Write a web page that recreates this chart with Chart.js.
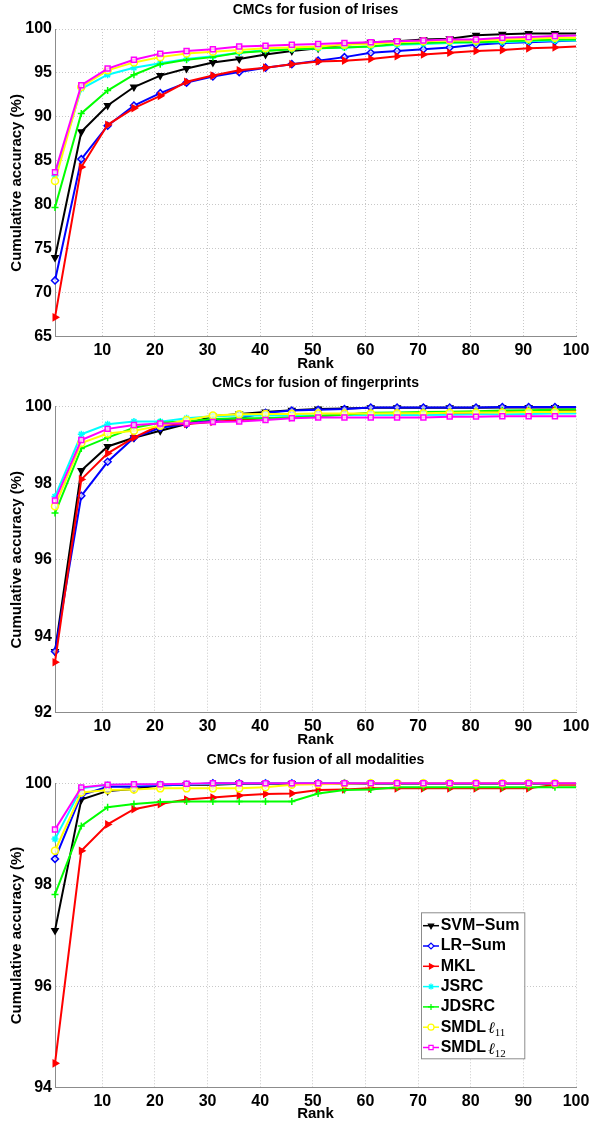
<!DOCTYPE html>
<html>
<head>
<meta charset="utf-8">
<script src="https://cdn.jsdelivr.net/npm/chart.js@4.4.0/dist/chart.umd.min.js"></script>
<style>
    html, body { margin: 0; padding: 0; background: #ffffff; }
    .panel { position: absolute; left: 0; width: 592px; }
</style>
</head>
<body>
<div class="panel" style="top:0;height:374px"><canvas id="irisChart"></canvas></div>
<div class="panel" style="top:374px;height:376px"><canvas id="fingerChart"></canvas></div>
<div class="panel" style="top:750px;height:374px"><canvas id="allChart"></canvas></div>
<script>
// ---- data ----
const ranks = [1, 6, 11, 16, 21, 26, 31, 36, 41, 46, 51, 56, 61, 66, 71, 76, 81, 86, 91, 96, 100];
const rankTicks = [10, 20, 30, 40, 50, 60, 70, 80, 90, 100];

const seriesNames = ['SVM−Sum', 'LR−Sum', 'MKL', 'JSRC', 'JDSRC', 'SMDL', 'SMDL'];
const seriesSubscripts = ['', '', '', '', '', '11', '12'];

// CMCs for fusion of Irises
const irisTicks = [65, 70, 75, 80, 85, 90, 95, 100];
const irisSvm = [74.0, 88.3, 91.3, 93.4, 94.7, 95.5, 96.2, 96.6, 97.1, 97.5, 97.8, 98.2, 98.5, 98.6, 98.8, 98.9, 99.3, 99.4, 99.5, 99.5, 99.5];
const irisLr = [71.4, 85.2, 89.0, 91.3, 92.7, 93.9, 94.6, 95.1, 95.6, 96.0, 96.4, 96.8, 97.3, 97.5, 97.7, 97.9, 98.2, 98.4, 98.5, 98.6, 98.7];
const irisMkl = [67.2, 84.3, 89.1, 91.0, 92.4, 94.0, 94.7, 95.3, 95.6, 96.0, 96.3, 96.4, 96.6, 96.9, 97.1, 97.3, 97.5, 97.6, 97.8, 97.9, 98.0];
const irisJsrc = [83.3, 93.2, 94.8, 95.6, 96.1, 96.6, 96.9, 97.3, 97.6, 97.7, 97.8, 97.9, 98.0, 98.2, 98.3, 98.4, 98.5, 98.5, 98.6, 98.7, 98.7];
const irisJdsrc = [79.7, 90.4, 93.0, 94.8, 96.0, 96.5, 96.8, 97.3, 97.5, 97.7, 97.8, 97.9, 98.0, 98.3, 98.4, 98.5, 98.5, 98.6, 98.7, 98.8, 98.8];
const irisSmdl11 = [82.7, 93.4, 95.3, 96.2, 96.8, 97.2, 97.4, 97.6, 97.8, 97.9, 98.0, 98.2, 98.3, 98.5, 98.6, 98.7, 98.7, 98.8, 98.9, 99.0, 99.0];
const irisSmdl12 = [83.7, 93.6, 95.5, 96.5, 97.2, 97.5, 97.7, 98.0, 98.1, 98.2, 98.3, 98.4, 98.5, 98.6, 98.7, 98.8, 98.8, 99.0, 99.1, 99.2, 99.25];

// CMCs for fusion of fingerprints
const fingerTicks = [92, 94, 96, 98, 100];
const fingerSvm = [93.6, 98.33, 98.96, 99.19, 99.37, 99.55, 99.75, 99.81, 99.86, 99.91, 99.94, 99.95, 99.97, 99.97, 99.97, 99.97, 99.97, 99.98, 99.98, 99.98, 99.98];
const fingerLr = [93.6, 97.67, 98.56, 99.19, 99.45, 99.55, 99.65, 99.7, 99.84, 99.9, 99.92, 99.94, 99.98, 99.98, 99.98, 99.98, 99.98, 99.99, 99.99, 99.99, 99.99];
const fingerMkl = [93.32, 98.1, 98.78, 99.19, 99.52, 99.55, 99.6, 99.65, 99.7, 99.72, 99.75, 99.8, 99.82, 99.82, 99.82, 99.82, 99.84, 99.86, 99.88, 99.9, 99.9];
const fingerJsrc = [97.65, 99.28, 99.54, 99.61, 99.61, 99.7, 99.75, 99.77, 99.77, 99.77, 99.77, 99.78, 99.78, 99.78, 99.78, 99.79, 99.8, 99.8, 99.81, 99.82, 99.82];
const fingerJdsrc = [97.22, 98.91, 99.19, 99.45, 99.58, 99.62, 99.68, 99.7, 99.7, 99.72, 99.76, 99.79, 99.84, 99.85, 99.86, 99.87, 99.88, 99.9, 99.91, 99.92, 99.93];
const fingerSmdl11 = [97.4, 99.05, 99.3, 99.37, 99.5, 99.65, 99.77, 99.8, 99.81, 99.81, 99.82, 99.82, 99.82, 99.83, 99.83, 99.84, 99.85, 99.85, 99.86, 99.86, 99.87];
const fingerSmdl12 = [97.55, 99.13, 99.42, 99.52, 99.56, 99.56, 99.6, 99.61, 99.65, 99.7, 99.72, 99.72, 99.72, 99.72, 99.72, 99.74, 99.74, 99.75, 99.75, 99.75, 99.75];

// CMCs for fusion of all modalities
const allTicks = [94, 96, 98, 100];
const allSvm = [97.1, 99.68, 99.85, 99.89, 99.96, 99.97, 99.97, 99.99, 99.99, 99.99, 99.99, 99.99, 99.99, 99.99, 99.99, 99.99, 99.99, 99.99, 99.99, 99.99, 99.99];
const allLr = [98.51, 99.77, 99.93, 99.93, 99.96, 99.97, 100, 100, 100, 100, 100, 100, 100, 100, 100, 100, 100, 100, 100, 100, 100];
const allMkl = [94.48, 98.67, 99.19, 99.49, 99.59, 99.68, 99.72, 99.76, 99.79, 99.8, 99.87, 99.88, 99.9, 99.9, 99.9, 99.9, 99.9, 99.9, 99.9, 99.97, 99.97];
const allJsrc = [98.9, 99.9, 99.97, 99.97, 99.98, 99.98, 99.99, 100, 100, 100, 100, 100, 100, 100, 100, 100, 100, 100, 100, 100, 100];
const allJdsrc = [97.81, 99.16, 99.53, 99.59, 99.63, 99.64, 99.64, 99.64, 99.64, 99.64, 99.8, 99.87, 99.88, 99.92, 99.92, 99.92, 99.92, 99.92, 99.92, 99.92, 99.92];
const allSmdl11 = [98.67, 99.82, 99.87, 99.88, 99.9, 99.9, 99.9, 99.9, 99.92, 99.97, 99.98, 99.99, 100, 100, 100, 100, 100, 100, 100, 100, 100];
const allSmdl12 = [99.09, 99.92, 99.97, 99.98, 99.98, 99.99, 100, 100, 100, 100, 100, 100, 100, 100, 100, 100, 100, 100, 100, 100, 100];

// ---- styles ----
const seriesColors = ['#000000', '#0000ff', '#ff0000', '#00ffff', '#00ff00', '#ffff00', '#ff00ff'];
const seriesMarkers = ['triangle', 'rectRot', 'triangle', 'star', 'cross', 'circle', 'rect'];
const markerRotation = [180, 0, 90, 0, 0, 0, 0];
const markerFilled = [true, false, true, false, false, false, false];

const FONT = '"Liberation Sans", Arial, Helvetica, sans-serif';
const SERIF = '"Liberation Serif", "Times New Roman", serif';

/**
 * Legend drawn inside the plot area (MATLAB style box)
 */
const insideLegend = {
    id: 'insideLegend',
    afterDraw(chart, args, opts) {
        if (!opts || !opts.display) return;
        const ctx = chart.ctx;
        const area = chart.chartArea;
        const width = 103.3, height = 146;
        const left = area.right - 51.7 - width;
        const top = area.bottom - 29.4 - height;

        ctx.save();
        ctx.fillStyle = '#ffffff';
        ctx.fillRect(left, top, width, height);
        ctx.strokeStyle = '#8c8c8c';
        ctx.lineWidth = 1;
        ctx.strokeRect(left + 0.5, top + 0.5, width, height);

        chart.data.datasets.forEach((ds, i) => {
            const y = top + 13.4 + i * 20.3;
            const color = seriesColors[i];
            ctx.strokeStyle = color;
            ctx.lineWidth = 1.5;
            ctx.beginPath();
            ctx.moveTo(left + 2, y);
            ctx.lineTo(left + 18, y);
            ctx.stroke();

            if (Chart.helpers && Chart.helpers.drawPoint) {
                ctx.fillStyle = markerFilled[i] ? color : '#ffffff';
                ctx.strokeStyle = color;
                ctx.lineWidth = 1.2;
                Chart.helpers.drawPoint(ctx, {
                    pointStyle: seriesMarkers[i],
                    rotation: markerRotation[i],
                    radius: 3,
                    borderWidth: 1.2
                }, left + 10, y);
            }

            ctx.fillStyle = '#000000';
            ctx.font = 'bold 16px ' + FONT;
            ctx.textAlign = 'left';
            ctx.textBaseline = 'middle';
            const tx = left + 19.7;
            ctx.fillText(seriesNames[i], tx, y);
            if (seriesSubscripts[i]) {
                const w = ctx.measureText(seriesNames[i]).width;
                ctx.textBaseline = 'alphabetic';
                ctx.font = 'italic 16px ' + SERIF;
                const base = y + 6;
                ctx.fillText('ℓ', tx + w + 2, base);
                const lw = ctx.measureText('ℓ').width;
                ctx.font = '11px ' + SERIF;
                ctx.fillText(seriesSubscripts[i], tx + w + 2 + lw, base + 3);
            }
        });
        ctx.restore();
    }
};

function buildDatasets(series) {
    return series.map((values, i) => ({
        label: seriesNames[i] + (seriesSubscripts[i] ? 'ℓ' + seriesSubscripts[i] : ''),
        data: ranks.map((r, k) => ({ x: r, y: values[k] })),
        borderColor: seriesColors[i],
        backgroundColor: seriesColors[i],
        borderWidth: 2,
        tension: 0,
        pointStyle: seriesMarkers[i],
        rotation: markerRotation[i],
        pointRadius: ctx => (ctx.dataIndex === ranks.length - 1 ? 0 : 3.5),
        pointBorderWidth: 1.5,
        pointBorderColor: seriesColors[i],
        pointBackgroundColor: markerFilled[i] ? seriesColors[i] : 'rgba(255,255,255,0.7)',
        order: series.length - i,
        clip: false
    }));
}

function createCmcChart(canvasId, title, series, yTicks, geom) {
    const ctx = document.getElementById(canvasId);
    // dotted MATLAB-like grid
    const gridOpts = { color: '#c8c8c8', lineWidth: 1, drawTicks: false, borderDash: [1, 2] };
    const borderOpts = { display: true, color: '#8c8c8c', width: 1, dash: [1, 2] };
    return new Chart(ctx, {
        type: 'line',
        data: { datasets: buildDatasets(series) },
        options: {
            responsive: true,
            maintainAspectRatio: false,
            animation: false,
            events: [],
            layout: { padding: { left: 0, right: 16, top: 0, bottom: 0 } },
            plugins: {
                legend: { display: false },
                tooltip: { enabled: false },
                title: {
                    display: true,
                    text: title,
                    fullSize: false,
                    color: '#000000',
                    font: { family: FONT, size: 14, weight: 'bold' },
                    padding: { top: geom.titleTop, bottom: geom.titleBottom }
                },
                insideLegend: { display: !!geom.legend }
            },
            scales: {
                x: {
                    type: 'linear',
                    min: ranks[0],
                    max: ranks[ranks.length - 1],
                    afterBuildTicks: scale => {
                        scale.ticks = rankTicks.map(v => ({ value: v }));
                    },
                    afterFit: scale => {
                        scale.height = geom.xHeight;
                        scale.paddingLeft = 0;
                        scale.paddingRight = 0;
                    },
                    grid: gridOpts,
                    border: borderOpts,
                    ticks: {
                        color: '#000000',
                        padding: 4,
                        maxRotation: 0,
                        font: { family: FONT, size: 16, weight: 'bold' }
                    },
                    title: {
                        display: true,
                        text: 'Rank',
                        color: '#000000',
                        font: { family: FONT, size: 15, weight: 'bold' },
                        padding: { top: 0, bottom: 1 }
                    }
                },
                y: {
                    min: yTicks[0],
                    max: yTicks[yTicks.length - 1],
                    afterBuildTicks: scale => {
                        scale.ticks = yTicks.map(v => ({ value: v }));
                    },
                    afterFit: scale => {
                        scale.width = 55;
                        scale.paddingTop = 0;
                        scale.paddingBottom = 0;
                    },
                    grid: gridOpts,
                    border: borderOpts,
                    ticks: {
                        color: '#000000',
                        padding: 3,
                        font: { family: FONT, size: 16, weight: 'bold' }
                    },
                    title: {
                        display: true,
                        text: 'Cumulative accuracy (%)',
                        color: '#000000',
                        font: { family: FONT, size: 15, weight: 'bold' },
                        padding: { top: 8, bottom: 0 }
                    }
                }
            }
        },
        plugins: [insideLegend]
    });
}

createCmcChart('irisChart', 'CMCs for fusion of Irises',
    [irisSvm, irisLr, irisMkl, irisJsrc, irisJdsrc, irisSmdl11, irisSmdl12],
    irisTicks, { titleTop: 1.6, titleBottom: 10.6, xHeight: 37.3 });

createCmcChart('fingerChart', 'CMCs for fusion of fingerprints',
    [fingerSvm, fingerLr, fingerMkl, fingerJsrc, fingerJdsrc, fingerSmdl11, fingerSmdl12],
    fingerTicks, { titleTop: 0.6, titleBottom: 15.3, xHeight: 37.3 });

createCmcChart('allChart', 'CMCs for fusion of all modalities',
    [allSvm, allLr, allMkl, allJsrc, allJdsrc, allSmdl11, allSmdl12],
    allTicks, { titleTop: 1.6, titleBottom: 14.9, xHeight: 36.3, legend: true });
</script>
</body>
</html>
